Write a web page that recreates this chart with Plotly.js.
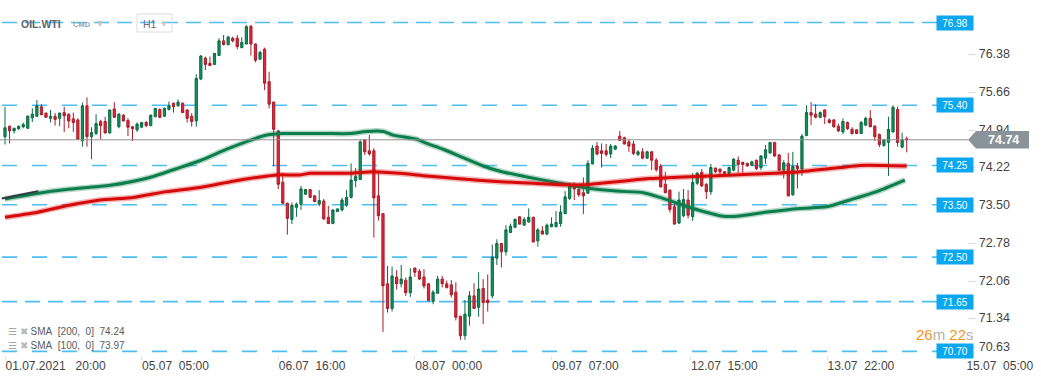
<!DOCTYPE html>
<html><head><meta charset="utf-8">
<script src="https://cdn.plot.ly/plotly-3.0.1.min.js"></script>
<style>html,body{margin:0;padding:0;background:#fff}#chart{width:1041px;height:380px}</style>
</head><body><div id="chart"></div>
<script>
// ---- data (OIL.WTI, H1) ----
const opens = [74.80,75.00,74.91,74.95,74.99,74.96,75.16,75.19,75.37,75.25,75.15,75.19,75.15,75.26,75.23,75.14,75.12,74.72,75.39,74.80,
74.86,75.09,75.09,74.87,75.33,74.99,75.21,75.11,74.99,74.93,74.98,75.07,75.01,75.18,75.32,75.19,75.32,75.44,75.39,75.44,
75.31,75.19,75.10,75.90,76.30,76.20,76.18,76.35,76.63,76.56,76.68,76.68,76.50,76.57,76.91,76.57,76.28,76.47,75.85,75.46,
74.91,73.93,73.53,73.22,73.45,73.51,73.70,73.79,73.67,73.51,73.57,73.26,73.14,73.37,73.40,73.49,73.64,73.96,73.98,74.74,
74.53,74.53,73.67,73.33,71.99,71.52,72.12,71.99,72.06,71.82,72.29,72.23,72.12,71.99,71.65,71.81,72.08,71.99,71.97,71.83,
71.37,71.00,71.37,71.76,71.54,71.90,71.68,71.76,72.48,72.76,72.60,72.97,73.07,73.27,73.11,73.17,73.26,72.81,73.00,72.94,
73.08,73.08,73.14,73.33,73.62,73.88,73.79,73.73,73.72,74.28,74.62,74.53,74.53,74.47,74.56,74.81,74.78,74.70,74.66,74.46,
74.51,74.39,74.51,74.35,74.24,73.89,73.78,73.46,73.15,73.29,73.59,73.27,73.91,74.12,73.89,73.75,74.20,74.18,74.13,74.10,
74.16,74.35,74.31,74.29,74.25,74.35,74.21,74.39,74.49,74.69,74.45,74.16,74.29,73.69,74.24,74.18,74.82,75.26,75.23,75.17,
75.31,75.12,75.12,75.00,74.89,75.07,74.94,74.93,74.86,75.02,75.15,75.00,74.84,74.63,74.69,74.89,75.32,74.60,74.76];
const highs = [75.37,75.01,74.97,75.01,75.07,75.21,75.34,75.50,75.42,75.26,75.31,75.25,75.26,75.37,75.24,75.26,75.15,75.45,75.55,74.98,
75.23,75.12,75.18,75.31,75.46,75.25,75.23,75.15,75.00,75.07,75.08,75.10,75.22,75.35,75.34,75.36,75.47,75.45,75.51,75.45,
75.32,75.25,75.99,76.36,76.33,76.33,76.40,76.68,76.74,76.73,76.71,76.74,76.70,76.93,76.93,76.58,76.44,76.50,76.04,75.47,
74.93,74.11,73.54,73.54,73.54,73.86,73.80,73.80,73.68,73.78,73.61,73.48,73.41,73.43,73.63,73.78,74.29,74.20,74.74,74.75,
74.83,74.58,74.13,73.34,72.33,72.32,72.25,72.35,72.11,72.29,72.30,72.27,72.27,72.00,71.87,72.14,72.14,72.05,72.06,72.02,
71.38,71.68,71.85,72.00,72.21,72.08,72.17,72.74,72.84,72.77,73.11,73.14,73.24,73.28,73.26,73.43,73.27,73.05,73.09,73.14,
73.26,73.38,73.49,73.76,73.92,73.93,73.90,74.02,74.35,74.64,74.70,74.67,74.66,74.66,74.64,74.91,74.80,74.75,74.72,74.54,
74.58,74.53,74.52,74.39,74.28,74.13,73.79,73.51,73.75,73.80,73.78,74.10,74.13,74.18,73.91,74.28,74.21,74.19,74.14,74.23,
74.39,74.42,74.32,74.30,74.34,74.36,74.45,74.64,74.70,74.70,74.47,74.35,74.49,74.51,74.30,74.85,75.40,75.46,75.42,75.28,
75.32,75.15,75.13,75.05,75.15,75.09,74.98,74.94,75.10,75.18,75.31,75.02,74.86,74.75,75.18,75.40,75.37,74.88,74.80];
const lows = [74.65,74.67,74.86,74.93,74.96,74.95,75.08,75.18,75.21,75.16,75.07,75.01,75.00,74.89,74.96,74.89,74.74,74.61,74.61,74.37,
74.83,74.75,74.86,74.86,75.16,74.96,75.09,74.81,74.72,74.89,74.97,74.98,75.00,75.17,75.15,75.18,75.30,75.26,75.37,75.25,
75.07,74.99,74.99,75.88,76.07,76.15,76.17,76.34,76.54,76.54,76.60,76.47,76.49,76.56,76.35,76.22,76.27,75.69,75.34,74.23,
73.80,73.51,72.93,73.13,73.27,73.40,73.69,73.63,73.55,73.47,73.21,73.14,73.13,73.36,73.37,73.46,73.62,73.83,73.97,74.45,
74.44,72.87,73.20,71.07,71.44,71.46,71.88,71.92,71.76,71.74,72.12,72.06,71.90,71.66,71.60,71.80,71.92,71.90,71.73,71.29,
70.92,70.92,71.19,71.51,71.36,71.22,71.46,71.71,72.35,72.30,72.53,72.96,73.05,73.12,73.10,73.16,72.78,72.70,72.93,72.92,
73.07,73.07,73.08,73.32,73.59,73.59,73.65,73.32,73.71,74.27,74.44,74.21,74.42,74.39,74.55,74.72,74.65,74.51,74.45,74.43,
74.37,74.38,74.16,74.13,73.83,73.72,73.35,73.12,73.13,73.26,73.24,73.19,73.88,73.84,73.61,73.69,74.11,74.05,74.09,74.09,
74.14,74.11,74.11,74.23,74.24,74.16,74.16,74.28,74.47,74.42,74.15,74.00,73.66,73.67,73.81,74.05,74.81,75.02,75.15,75.15,
75.04,75.05,74.97,74.89,74.85,74.93,74.84,74.85,74.85,75.00,74.98,74.72,74.60,74.61,74.05,74.88,74.61,74.58,74.50];
const closes = [74.97,74.91,74.96,75.00,75.03,75.19,75.23,75.39,75.22,75.17,75.19,75.13,75.25,75.20,75.10,75.07,74.75,75.39,74.80,74.88,
75.05,75.01,74.87,75.31,75.17,75.23,75.10,74.98,74.95,75.04,75.07,75.01,75.21,75.34,75.17,75.34,75.40,75.37,75.46,75.26,
75.15,75.09,75.91,76.34,76.18,76.16,76.39,76.63,76.56,76.70,76.63,76.52,76.60,76.90,76.57,76.26,76.41,75.82,75.42,74.94,
73.89,73.53,73.24,73.49,73.51,73.80,73.79,73.64,73.56,73.58,73.23,73.14,73.40,73.42,73.59,73.64,73.97,74.04,74.70,74.51,
74.47,73.63,73.29,71.95,71.52,72.14,71.99,72.08,71.82,72.12,72.21,72.08,71.95,71.67,71.83,72.08,71.99,71.92,71.78,71.35,
71.00,71.41,71.76,71.52,71.89,71.63,71.63,72.50,72.76,72.60,73.02,73.09,73.22,73.13,73.22,73.26,72.79,73.02,72.94,73.11,
73.13,73.16,73.36,73.65,73.88,73.80,73.69,73.67,74.29,74.58,74.47,74.48,74.46,74.62,74.62,74.73,74.66,74.62,74.48,74.51,
74.39,74.51,74.35,74.17,73.84,73.73,73.41,73.13,73.59,73.60,73.30,73.93,74.10,73.86,73.75,74.21,74.13,74.13,74.10,74.21,
74.37,74.27,74.27,74.24,74.32,74.19,74.43,74.55,74.69,74.43,74.16,74.30,73.67,74.23,74.19,74.81,75.26,75.21,75.17,75.26,
75.18,75.07,74.99,74.91,75.09,74.95,74.86,74.86,75.07,75.15,74.99,74.80,74.65,74.74,74.94,75.36,74.69,74.74,74.74];

// SMA 100 (green) and SMA 200 (red), read at bar positions
const sma100X = [0,7.3,13.5,23.1,31.8,38.4,42.8,48.7,53.8,57.5,61.1,70.6,75.8,79.4,83.1,85.2,90.4,92.6,96.2,100.6,
105.0,108.7,114.6,121.9,127.0,134.3,140.2,143.8,148.9,152.6,157.7,160.7,167.3,174.6,180.4,185.5,191.4,197.6];
const sma100 = [73.61,73.72,73.79,73.87,74.02,74.21,74.34,74.56,74.73,74.83,74.86,74.86,74.86,74.90,74.90,74.83,74.75,74.67,74.56,74.40,
74.24,74.14,74.03,73.91,73.83,73.76,73.73,73.64,73.49,73.39,73.28,73.28,73.36,73.43,73.46,73.59,73.75,73.97];
const sma200X = [0,6.2,13.5,20.9,28.2,35.5,42.8,50.1,56.0,59.7,64.8,67.0,75.8,80.9,86.7,92.6,99.2,108.7,116.0,123.3,
127.0,134.3,141.6,148.9,163.6,174.6,183.4,187.7,192.9,198.0];
const sma200 = [73.26,73.34,73.48,73.59,73.64,73.75,73.83,73.95,74.03,74.07,74.07,74.10,74.10,74.13,74.10,74.05,74.00,73.94,73.91,73.88,
73.88,73.94,74.00,74.03,74.08,74.13,74.21,74.25,74.25,74.24];
const trendX = [-0.7, 7.3];
const trendY = [73.62, 73.76];

const levels = [76.98, 75.40, 74.25, 73.50, 72.50, 71.65, 70.70];
const lastPrice = 74.74;
const yTicks = [76.38, 75.66, 74.94, 74.22, 73.50, 72.78, 72.06, 71.34];
const yBottom = 70.63;
const yTop = 77.41;
const xTickPos = [0, 30, 60, 90, 120, 150.5, 180.5, 211];
const xTickText = ['01.07.2021\u00a0\u00a0\u00a020:00','05.07\u00a0\u00a005:00','06.07\u00a0\u00a016:00','08.07\u00a0\u00a000:00',
  '09.07\u00a0\u00a007:00','12.07\u00a0\u00a015:00','13.07\u00a0\u00a022:00','15.07\u00a0\u00a005:00'];
const symbol = 'OIL.WTI', group = 'CMD', interval = 'H1';
const timerMin = '26', timerSec = '22';

// ---- layout helpers ----
const W = 1041, H = 380, M = {l:0, r:28, t:0, b:25};
const PW = W - M.l - M.r, PH = H - M.t - M.b;
const px = x => x / PW;            // pixel -> paper x
const py = y => 1 - y / PH;        // pixel -> paper y
const pxPerUnit = PH / (yTop - yBottom);
const barIdx = opens.map((_, i) => i);
const FONT = 'Arial, "Liberation Sans", sans-serif';

const traces = [];
[[sma100X, sma100, '#0c7d4d', 'rgba(12,125,77,0.3)'], [sma200X, sma200, '#d60a0a', 'rgba(214,10,10,0.3)']].forEach(([xs, ys, c, h]) => {
  traces.push({type:'scatter', mode:'lines', x:xs, y:ys, line:{color:h, width:6, shape:'spline', smoothing:0.6}, hoverinfo:'skip'});
  traces.push({type:'scatter', mode:'lines', x:xs, y:ys, line:{color:c, width:3, shape:'spline', smoothing:0.6}, hoverinfo:'skip'});
});
traces.push({type:'scatter', mode:'lines', x:trendX, y:trendY, yaxis:'y2', line:{color:'#333a40', width:2}, hoverinfo:'skip'});
traces.push({type:'candlestick', x:barIdx, open:opens, high:highs, low:lows, close:closes, whiskerwidth:0,
  increasing:{line:{color:'#0c6b44', width:1}, fillcolor:'#12905c'},
  decreasing:{line:{color:'#a91c2a', width:1}, fillcolor:'#e0283c'}, hoverinfo:'skip'});

const shapes = [];
const annotations = [];
const ann = o => annotations.push(Object.assign({showarrow:false, xanchor:'center', yanchor:'middle'}, o));
const denseLevels = [76.98, 71.65];
levels.forEach(lv => {
  shapes.push({type:'line', xref:'paper', yref:'y', x0:px(2), x1:px(937), y0:lv, y1:lv, layer:'below',
    line:{color:'#4fbef3', width:1.6, dash: denseLevels.includes(lv) ? '15px,8px' : '15px,15px'}});
  ann({xref:'paper', yref:'y', x:px(955), y:lv, text:lv.toFixed(2),
    bgcolor:'#0aa7ef', width:36, height:14, borderpad:0, font:{family:FONT, size:10, color:'#ffffff'}});
});
// current price line + arrow tag
shapes.push({type:'line', xref:'paper', yref:'y', x0:0, x1:px(968), y0:lastPrice, y1:lastPrice, layer:'above',
  line:{color:'#8f8f8f', width:1}});
const hh = 8.7 / pxPerUnit;
shapes.push({type:'path', xref:'paper', yref:'y', layer:'above', fillcolor:'#8a9399', line:{width:0},
  path:`M ${px(968)} ${lastPrice} L ${px(976)} ${lastPrice+hh} L ${px(1029)} ${lastPrice+hh} L ${px(1029)} ${lastPrice-hh} L ${px(976)} ${lastPrice-hh} Z`});
ann({xref:'paper', yref:'y', x:px(1003), y:lastPrice, text:'<b>'+lastPrice.toFixed(2)+'</b>',
  font:{family:FONT, size:12.5, color:'#ffffff'}});
// header
shapes.push({type:'rect', xref:'paper', yref:'paper', x0:px(137), x1:px(172), y0:py(14), y1:py(32), line:{color:'#dddddd', width:1}, layer:'above'});
ann({xref:'paper', yref:'paper', x:px(19), y:py(23.5), xanchor:'left', text:'<b>'+symbol+'</b>',
  font:{family:FONT, size:10.5, color:'#5a6670'}});
ann({xref:'paper', yref:'paper', x:px(71), y:py(24), xanchor:'left', text:'<b>'+group+'</b>',
  font:{family:FONT, size:7.5, color:'#9aa4ab'}});
ann({xref:'paper', yref:'paper', x:px(95), y:py(22.5), xanchor:'left', text:'▾',
  font:{family:FONT, size:12, color:'#c4c8cc'}});
ann({xref:'paper', yref:'paper', x:px(141), y:py(23.5), xanchor:'left', text:interval,
  font:{family:FONT, size:10.5, color:'#66707a'}});
ann({xref:'paper', yref:'paper', x:px(159), y:py(23), xanchor:'left', text:'▾',
  font:{family:FONT, size:11, color:'#c4c8cc'}});
// SMA legend
const legendRows = [['200', sma200[sma200.length-1]], ['100', sma100[sma100.length-1]]];
legendRows.forEach(([p, v], k) => {
  ann({xref:'paper', yref:'paper', x:px(6), y:py(331 + 14*k), xanchor:'left',
    text:'<span style="color:#a8a8a8">☰</span> <span style="color:#b8b8b8">✖</span> SMA\u00a0\u00a0[' + p + ',\u00a0\u00a00]\u00a0\u00a0' + v.toFixed(2),
    font:{family:FONT, size:10, color:'#555c62'}});
});
// countdown timer
ann({xref:'paper', yref:'paper', x:px(914), y:py(334.5), xanchor:'left',
  text:'<span style="color:#f7941d">'+timerMin+'</span><span style="color:#b0b0b0">m</span> <span style="color:#f7941d">'+timerSec+'</span><span style="color:#b0b0b0">s</span>',
  font:{family:FONT, size:15}});

const dash = '<span style="color:#d6d6d6">–</span> ';
const layout = {
  width:W, height:H, margin:M, paper_bgcolor:'#ffffff', plot_bgcolor:'#ffffff', showlegend:false,
  font:{family:FONT, size:12, color:'#444'},
  xaxis:{range:[-5/4.554, -5/4.554 + PW/4.554], showgrid:false, zeroline:false, showline:false,
    tickmode:'array', tickvals:xTickPos, ticktext:xTickText, ticklabelposition:'outside right',
    ticks:'outside', ticklen:4, tickcolor:'#e4e4e4', tickfont:{family:FONT, size:12, color:'#444'},
    rangeslider:{visible:false}, fixedrange:true},
  yaxis:{range:[yBottom, yTop], side:'right', showgrid:false, zeroline:false, showline:false,
    tickmode:'array', tickvals:yTicks, ticktext:yTicks.map(v => dash + v.toFixed(2)), ticklabelposition:'inside',
    ticks:'', tickfont:{family:FONT, size:12.5, color:'#444'}, fixedrange:true},
  yaxis2:{range:[yBottom, yTop], overlaying:'y', side:'right', showgrid:false, zeroline:false, showline:false,
    tickmode:'array', tickvals:[yBottom], ticktext:[dash + yBottom.toFixed(2)], ticklabelposition:'inside top',
    ticks:'', tickfont:{family:FONT, size:12.5, color:'#444'}, fixedrange:true},
  shapes, annotations
};
Plotly.newPlot('chart', traces, layout, {staticPlot:true, displayModeBar:false});
</script></body></html>
